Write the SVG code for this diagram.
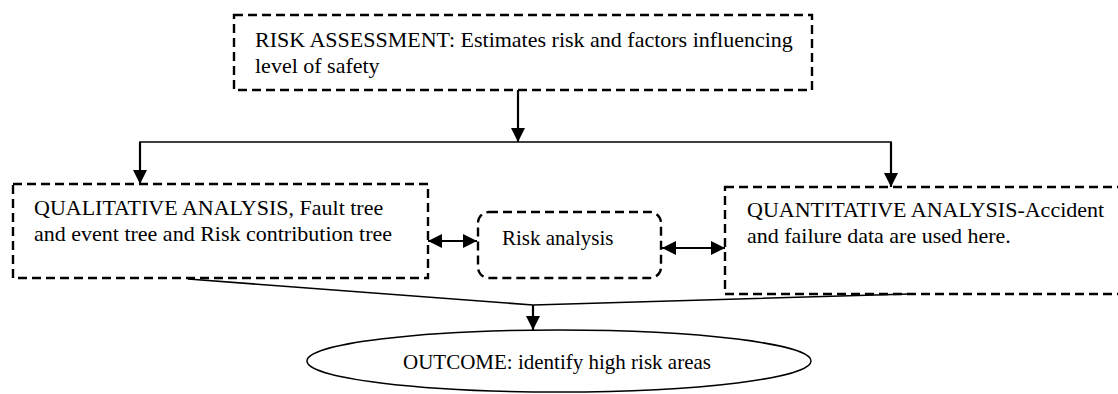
<svg xmlns="http://www.w3.org/2000/svg" width="1118" height="394" viewBox="0 0 1118 394">
  <style>
    .box { fill: #ffffff; stroke: #000000; stroke-width: 2.4; stroke-dasharray: 9 5; }
    .lbl { font-family: "Liberation Serif", "Times New Roman", serif; font-size: 21px; fill: #000000; }
    .big { font-size: 22px; }
    .line { fill: none; stroke: #000000; stroke-width: 1.6; }
    .arr { fill: none; stroke: #000000; stroke-width: 2.2; }
  </style>
  <defs>
    <marker id="head" viewBox="0 0 14 14" refX="14" refY="7" markerWidth="14" markerHeight="14" markerUnits="userSpaceOnUse" orient="auto-start-reverse">
      <path d="M0,0 L14,7 L0,14 Z" fill="#000000"/>
    </marker>
  </defs>

  <rect width="1118" height="394" fill="#ffffff"/>

  <g id="risk-assessment">
    <rect class="box" x="234" y="15" width="578" height="75"/>
    <text class="lbl big" x="255" y="47">RISK ASSESSMENT: Estimates risk and factors influencing</text>
    <text class="lbl big" x="255" y="73">level of safety</text>
  </g>

  <g id="qualitative">
    <rect class="box" x="13" y="184" width="415" height="94"/>
    <text class="lbl big" x="34" y="215">QUALITATIVE ANALYSIS, Fault tree</text>
    <text class="lbl big" x="34" y="241">and event tree and Risk contribution tree</text>
  </g>

  <g id="risk-analysis">
    <rect class="box" x="478" y="212" width="183" height="66" rx="11" ry="11"/>
    <text class="lbl" x="502" y="245">Risk analysis</text>
  </g>

  <g id="quantitative">
    <rect class="box" x="725" y="187" width="420" height="107"/>
    <text class="lbl big" x="747" y="217">QUANTITATIVE ANALYSIS-Accident</text>
    <text class="lbl big" x="747" y="243">and failure data are used here.</text>
  </g>

  <g id="outcome">
    <ellipse cx="559" cy="361" rx="252" ry="31" fill="#ffffff" stroke="#000000" stroke-width="1.5"/>
    <text class="lbl" x="403" y="369">OUTCOME: identify high risk areas</text>
  </g>

  <g id="connectors">
    <line class="arr" x1="518" y1="90" x2="518" y2="142" marker-end="url(#head)"/>
    <polyline class="line" points="140,184 140,142 891,142 891,187"/>
    <line class="arr" x1="140" y1="142" x2="140" y2="184" marker-end="url(#head)"/>
    <line class="arr" x1="891" y1="142" x2="891" y2="187" marker-end="url(#head)"/>
    <line class="arr" x1="428" y1="241" x2="477" y2="241" marker-start="url(#head)" marker-end="url(#head)"/>
    <line class="arr" x1="662" y1="248" x2="725" y2="248" marker-start="url(#head)" marker-end="url(#head)"/>
    <polyline class="line" points="188,279 533,305 910,294"/>
    <line class="arr" x1="533" y1="305" x2="533" y2="330" marker-end="url(#head)"/>
  </g>
</svg>
